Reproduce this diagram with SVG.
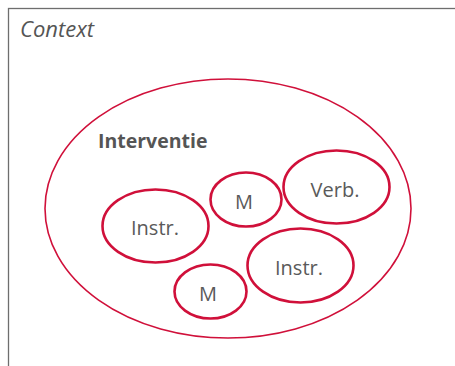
<svg xmlns="http://www.w3.org/2000/svg" width="455" height="366" viewBox="0 0 455 366">
<style>
.frame{fill:none;stroke:#6e6e6e;stroke-width:1.3}
.outer{fill:none;stroke:#d0103a;stroke-width:1.6}
.inner{fill:none;stroke:#d0103a;stroke-width:2.6}
.lbl{font-family:"Open Sans","Noto Sans",sans-serif;font-size:20px;fill:#5a5a5a;text-anchor:middle}
.title{font-family:"Open Sans","Noto Sans",sans-serif;font-size:19.5px;font-weight:bold;fill:#555}
.ctx{font-family:"Open Sans","Noto Sans",sans-serif;font-size:22px;font-style:italic;fill:#555}
</style>
<rect fill="#fff" width="455" height="366"/>
<g id="context">
<rect class="frame" x="8.5" y="8.5" width="460" height="370"/>
<text class="ctx" x="20" y="36.5">Context</text>
</g>
<g id="interventie">
<ellipse class="outer" cx="228" cy="208.5" rx="183" ry="129.5"/>
<text class="title" x="98" y="148">Interventie</text>
</g>
<g id="instr1">
<ellipse class="inner" cx="155.5" cy="226" rx="53" ry="36.5"/>
<text class="lbl" x="155" y="235">Instr.</text>
</g>
<g id="m1">
<ellipse class="inner" cx="246" cy="199.5" rx="35.5" ry="27"/>
<text class="lbl" x="244" y="209">M</text>
</g>
<g id="verb">
<ellipse class="inner" cx="336.5" cy="187" rx="53" ry="36.5"/>
<text class="lbl" x="335" y="196.5">Verb.</text>
</g>
<g id="instr2">
<ellipse class="inner" cx="300.5" cy="265.5" rx="53" ry="37"/>
<text class="lbl" x="299" y="275">Instr.</text>
</g>
<g id="m2">
<ellipse class="inner" cx="210.5" cy="291.5" rx="36" ry="27"/>
<text class="lbl" x="208" y="301">M</text>
</g>
<g id="connectors"/>
</svg>
